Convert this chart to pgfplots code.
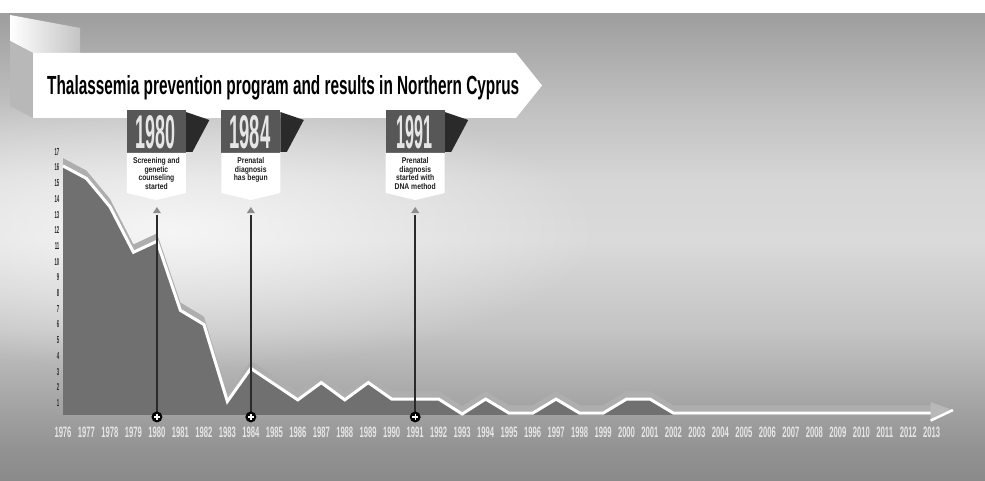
\documentclass[border=0pt]{standalone}
\usepackage{fontspec}
\setmainfont{Liberation Sans}
\usepackage{pgfplots}
\pgfplotsset{compat=1.18}
\usepackage{pgfplotstable}
\usepackage{graphicx}
\usetikzlibrary{fadings}

\definecolor{areac}{HTML}{707070}
\definecolor{bandc}{HTML}{AEAEAE}
\definecolor{arrc}{HTML}{B8B8B8}
\definecolor{boxc}{HTML}{575757}
\definecolor{foldc}{HTML}{2A2A2A}
\definecolor{labc}{HTML}{E6E6E6}
\definecolor{ytl}{HTML}{2A2A2A}
\definecolor{tric}{HTML}{8C8C8C}
\definecolor{yearc}{HTML}{E6E6E6}
\definecolor{txtc}{HTML}{1E1E1E}
\definecolor{c0}{HTML}{8A8A8A}
\definecolor{c1}{HTML}{929292}
\definecolor{c2}{HTML}{A6A6A6}
\definecolor{c3}{HTML}{C4C4C4}
\definecolor{c4}{HTML}{DADADA}
\definecolor{c5}{HTML}{D6D6D6}
\definecolor{c6}{HTML}{BEBEBE}
\definecolor{c7}{HTML}{9E9E9E}

\pgfdeclareverticalshading{bg}{100bp}{color(0bp)=(c0); color(25bp)=(c0); color(28.3bp)=(c1); color(33.65bp)=(c2); color(41.15bp)=(c3); color(50.8bp)=(c4); color(57.25bp)=(c5); color(65.8bp)=(c6); color(75bp)=(c7); color(100bp)=(c7)}
\tikzfading[name=glow, inner color=transparent!0, outer color=transparent!100]

% year, value (white line), band (upper edge of the lighter band)
\pgfplotstableread{
year y b
1976 16.1 16.6
1977 15.3 15.8
1978 13.5 14.0
1979 10.6 11.1
1980 11.3 11.8
1981 6.9 7.4
1982 6.0 6.5
1983 1.1 1.6
1984 3.2 3.7
1985 2.2 2.7
1986 1.2 1.7
1987 2.3 2.8
1988 1.2 1.7
1989 2.3 2.8
1990 1.25 1.75
1991 1.25 1.75
1992 1.25 1.75
1993 0.3 0.8
1994 1.25 1.75
1995 0.35 0.85
1996 0.35 0.85
1997 1.25 1.75
1998 0.35 0.85
1999 0.35 0.85
2000 1.25 1.75
2001 1.25 1.75
2002 0.35 0.85
2003 0.35 0.85
2004 0.35 0.85
2005 0.35 0.85
2006 0.35 0.85
2007 0.35 0.85
2008 0.35 0.85
2009 0.35 0.85
2010 0.35 0.85
2011 0.35 0.85
2012 0.35 0.85
2013 0.35 0.85
}\datatab

% closed outlines of the two filled areas
\pgfplotstableread{
year y b
1976 0.24 0.24
1976 16.1 16.6
1977 15.3 15.8
1978 13.5 14.0
1979 10.6 11.1
1980 11.3 11.8
1981 6.9 7.4
1982 6.0 6.5
1983 1.1 1.6
1984 3.2 3.7
1985 2.2 2.7
1986 1.2 1.7
1987 2.3 2.8
1988 1.2 1.7
1989 2.3 2.8
1990 1.25 1.75
1991 1.25 1.75
1992 1.25 1.75
1993 0.3 0.8
1994 1.25 1.75
1995 0.35 0.85
1996 0.35 0.85
1997 1.25 1.75
1998 0.35 0.85
1999 0.35 0.85
2000 1.25 1.75
2001 1.25 1.75
2002 0.35 0.85
2003 0.35 0.85
2004 0.35 0.85
2005 0.35 0.85
2006 0.35 0.85
2007 0.35 0.85
2008 0.35 0.85
2009 0.35 0.85
2010 0.35 0.85
2011 0.35 0.85
2012 0.35 0.85
2013 0.35 0.85
2013 0.24 0.24
}\areatab

% #1 centre x, #2 year, #3 year width, #4 text, #5 text centre y
\newcommand\callout[5]{%
  \fill[foldc] (#1+29.5,369) -- (#1+53,361) -- (#1+36,329) -- (#1+29.5,329) -- cycle;
  \fill[boxc] (#1-29.5,328) rectangle (#1+29.5,371);
  \fill[white] (#1-29.5,328) -- (#1+29.5,328) -- (#1+29.5,288) -- (#1,281) -- (#1-29.5,288) -- cycle;
  \node[inner sep=0pt, text=yearc] at (#1-1,348.5) {\resizebox{#3bp}{33bp}{\bfseries #2}};
  \node[inner sep=0pt, text=txtc] at (#1,#5) {\scalebox{0.81}[1]{\fontsize{8.4}{8.2}\selectfont\bfseries\begin{tabular}{@{}c@{}}#4\end{tabular}}};
}

\begin{document}
\begin{tikzpicture}
\begin{scope}[x=1bp,y=1bp]
\useasboundingbox (0,0) rectangle (985,481);
\fill[white] (0,0) rectangle (985,481);
\shade[shading=bg] (0,0) rectangle (985,467);
\fill[white, opacity=0.75, path fading=glow] (170,251) ellipse [x radius=430, y radius=140];
% top-left ribbon fold
\shade[left color=white, right color=c3] (10,466) -- (80,453) -- (80,428) -- (33,428) -- (10,440) -- cycle;
\fill[c2!80!white] (10,440) -- (33,428) -- (33,363) -- (10,375) -- cycle;
% title banner
\fill[white] (33,428) -- (516,428) -- (542,395.5) -- (516,363) -- (33,363) -- cycle;
\node[anchor=base west, inner sep=0pt] at (47,386) {\resizebox{472bp}{19bp}{\bfseries Thalassemia prevention program and results in Northern Cyprus}};
\end{scope}

\begin{axis}[
  at={(63bp,65.44bp)}, anchor=south west,
  scale only axis, width=868.8bp, height=263.76bp,
  xmin=1976, xmax=2013, ymin=0.2, ymax=17,
  axis x line*=bottom, axis y line*=left,
  axis line style={draw=none}, tick style={draw=none},
  xtick={1976,...,2013}, ytick={1,...,17},
  xticklabel={\resizebox{17bp}{10.5bp}{\bfseries\pgfmathprintnumber[1000 sep={},assume math mode=true]{\tick}}},
  xticklabel style={anchor=north, inner sep=0pt, yshift=-11.2bp, text=labc},
  yticklabel={\resizebox{!}{7bp}{\scalebox{0.42}[1]{\bfseries\pgfmathprintnumber[assume math mode=true]{\tick}}}},
  yticklabel style={anchor=east, inner sep=0pt, xshift=-3.5bp, text=ytl},
  clip=false,
]
\addplot[draw=none, fill=bandc] table[x=year, y=b]{\areatab};
\addplot[draw=none, fill=areac] table[x=year, y=y]{\areatab};
\addplot[white, line width=3bp, no marks] table[x=year, y=y]{\datatab};
\coordinate (a1) at (axis cs:2012.95,1.06);
\coordinate (a2) at (axis cs:2013.9,0.55);
\coordinate (a3) at (axis cs:2012.95,-0.15);
\coordinate (a4) at (axis cs:2012.95,-0.12);
\coordinate (t1980) at (axis cs:1980,12.97);
\coordinate (b1980) at (axis cs:1980,0.4);
\coordinate (p1980) at (axis cs:1980,0.11);
\coordinate (r1980) at (axis cs:1980,13.1);
\coordinate (t1984) at (axis cs:1984,12.97);
\coordinate (b1984) at (axis cs:1984,0.4);
\coordinate (p1984) at (axis cs:1984,0.11);
\coordinate (r1984) at (axis cs:1984,13.1);
\coordinate (t1991) at (axis cs:1991,12.97);
\coordinate (b1991) at (axis cs:1991,0.4);
\coordinate (p1991) at (axis cs:1991,0.11);
\coordinate (r1991) at (axis cs:1991,13.1);
\end{axis}

% arrow head
\fill[arrc] (a1) -- (a2) -- (a3) -- cycle;
\draw[white, line width=2.5bp] (a4) -- (a2);
% event lines
\foreach \yr in {1980,1984,1991}{
  \draw[foldc, line width=1.5bp] (t\yr) -- (b\yr);
  \fill[tric] (r\yr) ++(-4bp,0) -- ++(4bp,6bp) -- ++(4bp,-6bp) -- cycle;
  \fill[black] (p\yr) circle[radius=5.5bp];
  \draw[white, line width=1.3bp] (p\yr) ++(-3bp,0) -- ++(6bp,0);
  \draw[white, line width=1.3bp] (p\yr) ++(0,-3bp) -- ++(0,6bp);
}

\begin{scope}[x=1bp,y=1bp]
\callout{156.4}{1980}{40}{Screening and\\genetic\\counseling\\started}{306.5}
\callout{250.8}{1984}{41}{Prenatal\\diagnosis\\has begun}{310.5}
\callout{415.2}{1991}{36}{Prenatal\\diagnosis\\started with\\DNA method}{306.5}
\end{scope}
\end{tikzpicture}%
\end{document}
